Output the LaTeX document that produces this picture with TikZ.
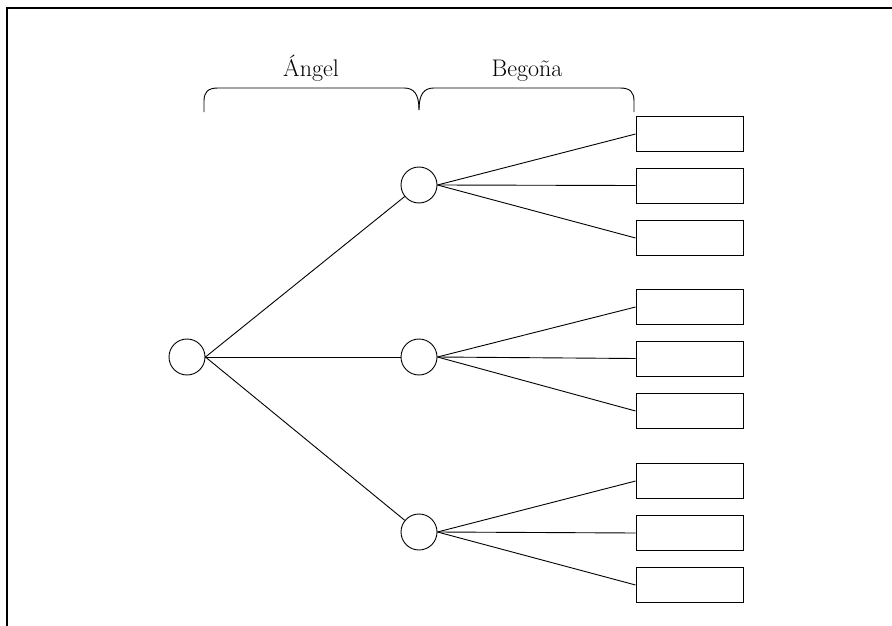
\documentclass[tikz,border=0pt]{standalone}
\begin{document}
\begin{tikzpicture}[x=1pt,y=-1pt, line width=0.9pt,
  circ/.style={circle,draw,minimum size=36pt,inner sep=0pt},
  leaf/.style={rectangle,draw,minimum width=107pt,minimum height=35pt,inner sep=0pt},
  lbl/.style={font=\fontsize{24}{28}\selectfont, anchor=base, inner sep=0pt}]
\useasboundingbox (0,0) rectangle (892,626);
\draw[line width=1.2pt] (7,626) -- (7,8) -- (892,8);
% nodes
\node[circ] (r) at (187,357) {};
\node[circ] (m1) at (419,185) {};
\node[circ] (m2) at (419,357) {};
\node[circ] (m3) at (419,532) {};
\node[leaf] (a1) at (689.5,134) {};
\node[leaf] (a2) at (689.5,185.5) {};
\node[leaf] (a3) at (689.5,238) {};
\node[leaf] (b1) at (689.5,307) {};
\node[leaf] (b2) at (689.5,358.5) {};
\node[leaf] (b3) at (689.5,411) {};
\node[leaf] (c1) at (689.5,481) {};
\node[leaf] (c2) at (689.5,533) {};
\node[leaf] (c3) at (689.5,585) {};
% connectors
\draw (r.east) -- (m1);
\draw (r.east) -- (m2.west);
\draw (r.east) -- (m3);
\foreach \m/\g in {m1/a, m2/b, m3/c}{
  \draw (\m.east) -- (\g1.west);
  \draw (\m.east) -- (\g2.west);
  \draw (\m.east) -- (\g3.west);
}
% braces
\draw (204,112) -- (204,101) .. controls (204,92) and (208,88) .. (218,88) -- (404,88) .. controls (414,88) and (419,94) .. (419,110);
\draw (634,112) -- (634,101) .. controls (634,92) and (630,88) .. (620,88) -- (434,88) .. controls (424,88) and (419,94) .. (419,110);
% labels
\node[lbl] (la) at (311,77) {Ángel};
\node[lbl] (lb) at (527,77) {Begoña};
\end{tikzpicture}
\end{document}
